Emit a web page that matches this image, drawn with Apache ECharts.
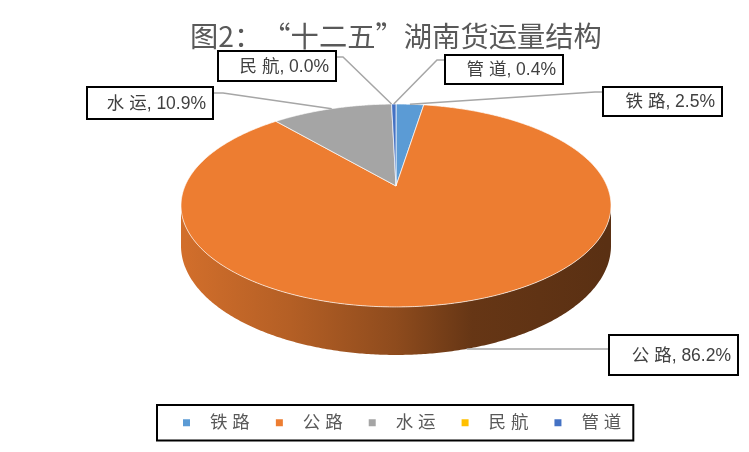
<!DOCTYPE html>
<html>
<head>
<meta charset="utf-8">
<script src="https://cdn.jsdelivr.net/npm/echarts@6/dist/echarts.min.js"></script>
<style>
  html, body { margin: 0; padding: 0; background: #fff; }
  #chart { width: 749px; height: 452px; }
</style>
</head>
<body>
<div id="chart"></div>
<script>
// Freight structure, 12th Five-Year Plan period (share of total, %)
const categories = ['铁路', '公路', '水运', '民航', '管道'];
const shares = [2.5, 86.2, 10.9, 0.0, 0.4];
const palette = ['#5b9bd5', '#ed7d31', '#a5a5a5', '#ffc000', '#4472c4'];
const titleText = '图2：“十二五”湖南货运量结构';

// Callout boxes [left, top, width, height] and where each leader leaves its box
const callouts = [
  { box: [603, 87, 119, 29], from: [603, 92], elbow: -8 },
  { box: [609, 335, 129, 40], from: [609, 349], elbow: -2 },
  { box: [87, 87, 126, 32], from: [213, 93], elbow: 10 },
  { box: [218, 51, 118, 30], from: [336, 57], elbow: 7 },
  { box: [445, 55, 118, 29], from: [445, 60], elbow: -8 }
];

// Tilted-disc projection: apex position, horizontal radius, tilt, perspective, thickness
const P = { cx: 396, cy: 186, k: 211, q: 62, c: 0.192, depth: 38.8 };
const FONT = '"Liberation Sans", "Noto Sans CJK SC", sans-serif';

const total = shares.reduce((a, b) => a + b, 0);
function angleBefore(i) {
  return shares.slice(0, i).reduce((a, b) => a + b, 0) / total * 360;
}
function project(deg, level) {
  const t = deg * Math.PI / 180;
  const X = Math.sin(t), Z = Math.cos(t);
  const w = 1 + P.c * Z;
  return [P.cx + P.k * X / w, (P.cy - P.q * Z + P.depth * level) / w];
}
function arc(a, b, level) {
  const pts = [];
  const n = Math.max(2, Math.ceil((b - a) / 0.5));
  for (let s = 0; s <= n; s++) pts.push(project(a + (b - a) * s / n, level));
  return pts;
}
// darken a colour by a factor (1 = unchanged)
function shade(color, f) {
  const c = echarts.color.parse(color);
  return 'rgb(' + [0, 1, 2].map(k => Math.round(c[k] * f)).join(',') + ')';
}
// front wall is visible between the two silhouette tangents
const sideLo = Math.acos(-P.c) * 180 / Math.PI;
const sideHi = 360 - sideLo;

function pieRenderer(i) {
  return function (params, api) {
    const start = angleBefore(i);
    const end = start + api.value(0) / total * 360;
    const color = api.visual('color');
    const children = [];
    if (end - start <= 0) return { type: 'group', children };
    const a = Math.max(start, sideLo), b = Math.min(end, sideHi);
    if (b > a) {
      const left = project(270, 0)[0], right = project(90, 0)[0];
      children.push({
        type: 'polygon',
        shape: { points: arc(a, b, 0).concat(arc(a, b, 1).reverse()) },
        style: {
          fill: {
            type: 'linear', x: left, y: 0, x2: right, y2: 0, global: true,
            colorStops: [
              { offset: 0, color: shade(color, 0.88) },
              { offset: 0.25, color: shade(color, 0.76) },
              { offset: 0.5, color: shade(color, 0.6) },
              { offset: 0.68, color: shade(color, 0.43) },
              { offset: 1, color: shade(color, 0.38) }
            ]
          }
        }
      });
    }
    children.push({
      type: 'polygon',
      shape: { points: [[P.cx, P.cy]].concat(arc(start, end, 0)) },
      style: { fill: color, stroke: 'rgba(255,255,255,0.85)', lineWidth: 0.8 }
    });
    return { type: 'group', children };
  };
}

function labelRenderer(params, api) {
  const i = params.dataIndex;
  const v = api.value(0);
  const start = angleBefore(i);
  const mid = start + v / total * 360 / 2;
  const rad = mid * Math.PI / 180;
  const onFront = Math.cos(rad) < -P.c;
  const tip = project(mid, onFront ? 1 : 0);
  const c = callouts[i];
  const [bx, by, bw, bh] = c.box;
  const name = categories[i].split('').join(' ');
  return {
    type: 'group',
    children: [
      {
        type: 'polyline',
        shape: { points: [c.from, [c.from[0] + c.elbow, c.from[1]], tip] },
        style: { stroke: '#a6a6a6', lineWidth: 1.5, fill: null }
      },
      {
        type: 'rect',
        shape: { x: bx, y: by, width: bw, height: bh },
        style: { fill: '#fff', stroke: '#000', lineWidth: 2 }
      },
      {
        type: 'text',
        x: bx + bw - 7, y: by + bh / 2 + 1,
        style: {
          text: name + ', ' + v.toFixed(1) + '%',
          align: 'right', verticalAlign: 'middle',
          fill: '#404040', font: '17.5px ' + FONT
        }
      }
    ]
  };
}

const series = categories.map((name, i) => ({
  type: 'custom',
  name: name,
  coordinateSystem: 'none',
  itemStyle: { color: palette[i] },
  data: [[shares[i]]],
  renderItem: pieRenderer(i),
  silent: true,
  animation: false
}));
series.push({
  type: 'custom',
  name: 'callouts',
  coordinateSystem: 'none',
  z: 10,
  data: shares.map(v => [v]),
  renderItem: labelRenderer,
  silent: true,
  animation: false
});

const chart = echarts.init(document.getElementById('chart'));
chart.setOption({
  backgroundColor: '#fff',
  animation: false,
  title: {
    text: titleText,
    left: 185, top: 17,
    textStyle: { fontSize: 28.3, color: '#595959', fontWeight: 'normal', fontFamily: '"Noto Sans CJK SC", sans-serif' }
  },
  legend: {
    data: categories,
    left: 157, top: 405,
    icon: 'rect', itemWidth: 7, itemHeight: 7,
    itemGap: 26,
    padding: [9, 12, 9, 26],
    borderColor: '#000', borderWidth: 2,
    selectedMode: false,
    formatter: n => n.split('').join(' '),
    textStyle: { fontSize: 17.5, color: '#595959', fontFamily: FONT, padding: [0, 0, 0, 15] }
  },
  series: series
});
</script>
</body>
</html>
